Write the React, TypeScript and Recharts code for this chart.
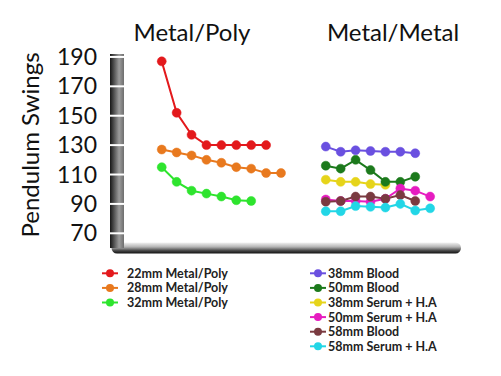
import { LineChart, Line, XAxis, YAxis } from "recharts";

// x positions: Metal/Poly readings, then a gap, then Metal/Metal readings
const polyStart = 0;
const metalStart = 11;

const mp22 = [187, 152, 137, 130, 130, 130, 130, 130];
const mp28 = [127, 125, 123, 120, 118, 115, 114, 111, 111];
const mp32 = [115, 105, 99, 97, 95, 92.5, 92];

const blood38 = [129, 125.5, 126.5, 126, 125.5, 125.5, 124.5];
const blood50 = [116, 114, 120, 113, 105, 105, 108.5];
const serum38 = [106.5, 105, 105, 103.5, 103];
const serum50 = [93, 92, 92, 91.5, 93.5, 100.5, 99, 95];
const blood58 = [91.5, 92, 95, 95, 93.5, 96, 92];
const serum58 = [85, 85, 88.5, 88, 87.5, 90, 85.5, 87];

const yTicks = [70, 90, 110, 130, 150, 170, 190];

const polySeries = [
  { name: "22mm Metal/Poly", values: mp22, start: polyStart, color: "#e3191c" },
  { name: "28mm Metal/Poly", values: mp28, start: polyStart, color: "#e8791e" },
  { name: "32mm Metal/Poly", values: mp32, start: polyStart, color: "#2ee42e" },
];

const metalSeries = [
  { name: "38mm Blood", values: blood38, start: metalStart, color: "#6a50e0" },
  { name: "50mm Blood", values: blood50, start: metalStart, color: "#1c7a1c" },
  { name: "38mm Serum + H.A", values: serum38, start: metalStart, color: "#e6d41a" },
  { name: "50mm Serum + H.A", values: serum50, start: metalStart, color: "#e61cc0" },
  { name: "58mm Blood", values: blood58, start: metalStart, color: "#7a3a40" },
  { name: "58mm Serum + H.A", values: serum58, start: metalStart, color: "#22d6e6" },
];

// draw order so overlaps look like the original
const drawOrder = [2, 1, 0, 3, 4, 5];

const font = "Lato, 'DejaVu Sans', sans-serif";

const toPoints = (values: number[], start: number) =>
  values.map((v, i) => ({ x: start + i, y: v }));

function YTick(props: any) {
  const { x, y, payload } = props;
  const axisX = x + 20;
  return (
    <g>
      <line x1={axisX - 7} x2={axisX + 7} y1={y} y2={y} stroke="#ffffff" strokeWidth={2} />
      <text x={x} y={y} dy={8} textAnchor="end" fontSize={23} fill="#111" fontFamily={font}>
        {payload.value}
      </text>
    </g>
  );
}

function LegendItem({ x, y, gap, name, color }: { x: number; y: number; gap: number; name: string; color: string }) {
  return (
    <g>
      <line x1={x - 8} x2={x + 8} y1={y} y2={y} stroke={color} strokeWidth={2} />
      <circle cx={x} cy={y} r={4} fill={color} />
      <text x={x + gap} y={y + 4.5} fontSize={12.5} fontWeight="bold" fill="#222" fontFamily={font}>
        {name}
      </text>
    </g>
  );
}

export default function App() {
  const allLines = [
    ...polySeries,
    ...drawOrder.map((i) => metalSeries[i]),
  ];
  return (
    <div style={{ position: "absolute", left: 0, top: 0, width: 501, height: 376, background: "#fff" }}>
      <LineChart
        width={501}
        height={376}
        margin={{ top: 54, right: 45.5, bottom: 118, left: 0 }}
      >
        <defs>
          <linearGradient id="barGrad" gradientUnits="userSpaceOnUse" x1={110} y1={0} x2={124} y2={0}>
            <stop offset="0" stopColor="#161616" />
            <stop offset="0.25" stopColor="#4a4a4a" />
            <stop offset="0.65" stopColor="#9c9c9c" />
            <stop offset="1" stopColor="#6e6e6e" />
          </linearGradient>
          <linearGradient id="floorGrad" gradientUnits="userSpaceOnUse" x1={0} y1={242.5} x2={0} y2={253.5}>
            <stop offset="0" stopColor="#f2f2f2" />
            <stop offset="0.4" stopColor="#b4b4b4" />
            <stop offset="0.75" stopColor="#444" />
            <stop offset="1" stopColor="#111" />
          </linearGradient>
        </defs>
        <XAxis
          type="number"
          dataKey="x"
          domain={[-3, 19.7]}
          allowDataOverflow
          height={10}
          tick={false}
          tickLine={false}
          axisLine={{ stroke: "url(#floorGrad)", strokeWidth: 11, strokeLinecap: "round" }}
        />
        <YAxis
          type="number"
          dataKey="y"
          domain={[60, 192]}
          ticks={yTicks}
          width={117}
          tickSize={0}
          tickMargin={20}
          tickLine={false}
          tick={<YTick />}
          axisLine={{ stroke: "url(#barGrad)", strokeWidth: 14 }}
        />
        {allLines.map((s) => (
          <Line
            key={s.name}
            data={toPoints(s.values, s.start)}
            dataKey="y"
            name={s.name}
            type="linear"
            stroke={s.color}
            strokeWidth={2}
            dot={{ r: 4.5, fill: s.color, stroke: s.color, strokeWidth: 0.5 }}
            isAnimationActive={false}
          />
        ))}
      </LineChart>
      <svg
        width={501}
        height={376}
        style={{ position: "absolute", left: 0, top: 0, pointerEvents: "none" }}
      >
        <text x={192} y={41} textAnchor="middle" fontSize={24} fill="#111" fontFamily={font}>
          Metal/Poly
        </text>
        <text x={393} y={41} textAnchor="middle" fontSize={24} fill="#111" fontFamily={font}>
          Metal/Metal
        </text>
        <text
          x={39}
          y={145}
          transform="rotate(-90 39 145)"
          textAnchor="middle"
          fontSize={24}
          fill="#111"
          fontFamily={font}
        >
          Pendulum Swings
        </text>
        {polySeries.map((s, i) => (
          <LegendItem key={s.name} x={110} y={273.3 + i * 14.6} gap={17} name={s.name} color={s.color} />
        ))}
        {metalSeries.map((s, i) => (
          <LegendItem key={s.name} x={318} y={273.3 + i * 14.6} gap={10} name={s.name} color={s.color} />
        ))}
      </svg>
    </div>
  );
}
